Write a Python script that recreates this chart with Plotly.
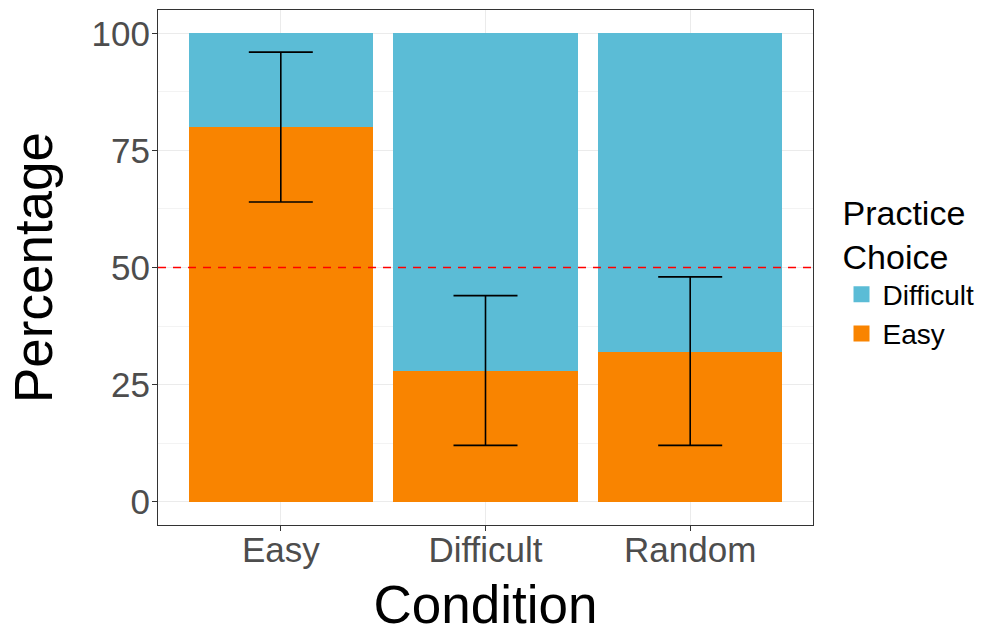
import plotly.graph_objects as go

conditions = ["Easy", "Difficult", "Random"]
easy_pct = [80, 28, 32]
difficult_pct = [20, 72, 68]
ci_low = [64, 12, 12]
ci_high = [96, 44, 48]
y_ticks = [0, 25, 50, 75, 100]
chance_level = 50

col_easy = "#F98400"
col_diff = "#5BBCD6"

fig = go.Figure()
fig.add_trace(go.Bar(x=conditions, y=easy_pct, name="Easy", marker_color=col_easy,
                     marker_line_width=0, hoverinfo="skip", showlegend=False, legendgroup="e"))
fig.add_trace(go.Bar(x=conditions, y=difficult_pct, name="Difficult", marker_color=col_diff,
                     marker_line_width=0, hoverinfo="skip", showlegend=False, legendgroup="d"))
# legend keys (square swatches)
fig.add_trace(go.Scatter(x=[None], y=[None], mode="markers", name="Easy", legendgroup="e",
                         marker=dict(symbol="square", size=16, color=col_easy)))
fig.add_trace(go.Scatter(x=[None], y=[None], mode="markers", name="Difficult", legendgroup="d",
                         marker=dict(symbol="square", size=16, color=col_diff)))
fig.add_trace(go.Scatter(
    x=conditions, y=easy_pct, mode="markers", marker=dict(opacity=0, size=1),
    showlegend=False, hoverinfo="skip",
    error_y=dict(type="data", symmetric=False,
                 array=[h - e for h, e in zip(ci_high, easy_pct)],
                 arrayminus=[e - l for e, l in zip(easy_pct, ci_low)],
                 color="black", thickness=1.6, width=32)))

fig.add_shape(type="line", xref="paper", x0=0, x1=1, yref="y", y0=chance_level, y1=chance_level,
              line=dict(color="#FF0000", width=1.6, dash="8px,7px"), layer="above")

font = "Liberation Sans, Arial, Helvetica, sans-serif"
fig.update_layout(
    width=992, height=634,
    margin=dict(l=158, r=179, t=10, b=109, autoexpand=False),
    barmode="stack", bargap=0.1,
    plot_bgcolor="white", paper_bgcolor="white",
    font=dict(family=font, color="black"),
    legend=dict(title=dict(text="Practice<br>Choice", font=dict(size=34, color="black")),
                font=dict(size=28, color="black"), traceorder="reversed",
                x=1.042, xanchor="left", y=0.495, yanchor="middle",
                bgcolor="rgba(0,0,0,0)", itemsizing="trace", itemwidth=32),
    xaxis=dict(title=dict(text="Condition", font=dict(size=53, color="black"), standoff=19),
               automargin=False,
               range=[-0.6, 2.6], showgrid=True, gridcolor="#EBEBEB", gridwidth=1.1,
               ticks="outside", ticklen=5, tickcolor="#333333", tickwidth=1.1,
               tickfont=dict(size=35, color="#4D4D4D"), ticklabelstandoff=-11,
               showline=True, linecolor="#333333", linewidth=1.1, mirror=True, zeroline=False),
    yaxis=dict(title=dict(text="Percentage", font=dict(size=53, color="black"), standoff=21),
               automargin=False,
               range=[-5, 105], tickvals=y_ticks, ticktext=[str(v) for v in y_ticks],
               showgrid=True, gridcolor="#EBEBEB", gridwidth=1.1,
               minor=dict(dtick=12.5, tick0=0, showgrid=True, gridcolor="#F3F3F3", gridwidth=0.6, ticks=""),
               ticks="outside", ticklen=5, tickcolor="#333333", tickwidth=1.1,
               tickfont=dict(size=35, color="#4D4D4D"), ticklabelstandoff=-5,
               showline=True, linecolor="#333333", linewidth=1.1, mirror=True, zeroline=False),
)

fig.write_html("out.html", config={"displayModeBar": False},
               post_script="document.body.style.margin='0';")
